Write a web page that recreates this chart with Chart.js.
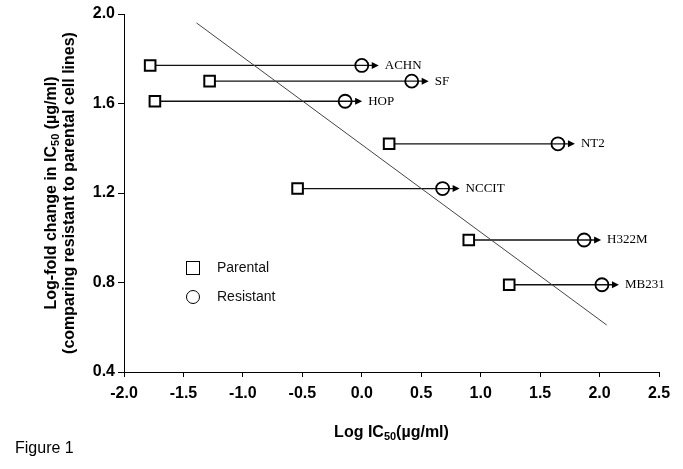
<!DOCTYPE html>
<html>
<head>
<meta charset="utf-8">
<script src="https://cdn.jsdelivr.net/npm/chart.js@4.4.0/dist/chart.umd.min.js"></script>
<style>
  html, body { margin: 0; padding: 0; background: #fff; }
  #wrap { width: 683px; height: 469px; }
</style>
</head>
<body>
<div id="wrap"><canvas id="icChart" width="683" height="469"></canvas></div>
<script>
// Cell lines and their log IC50 values (parental vs resistant)
const cellLines = ['ACHN', 'SF', 'HOP', 'NT2', 'NCCIT', 'H322M', 'MB231'];
const parentalLogIC50 = [-1.78, -1.28, -1.74, 0.23, -0.54, 0.90, 1.24];
const resistantLogIC50 = [0.0, 0.42, -0.14, 1.65, 0.68, 1.87, 2.02];
const logFoldChange = [1.77, 1.70, 1.61, 1.42, 1.22, 0.99, 0.79];

// Fitted trend line end points
const trendX = [-1.39, 2.06];
const trendY = [1.96, 0.61];

// Axis ticks
const xTicks = [-2.0, -1.5, -1.0, -0.5, 0.0, 0.5, 1.0, 1.5, 2.0, 2.5];
const yTicks = [0.4, 0.8, 1.2, 1.6, 2.0];

const sansBold = 'bold 16px "Liberation Sans", Arial, sans-serif';
const sansBoldSub = 'bold 11px "Liberation Sans", Arial, sans-serif';

function richWidth(ctx, parts) {
  let w = 0;
  parts.forEach(p => {
    ctx.font = p.sub ? sansBoldSub : sansBold;
    w += ctx.measureText(p.t).width;
  });
  return w;
}

// draws text pieces (some subscript) centred on cx, cy
function drawRich(ctx, parts, cx, cy) {
  let x = cx - richWidth(ctx, parts) / 2;
  ctx.textAlign = 'left';
  ctx.textBaseline = 'middle';
  parts.forEach(p => {
    ctx.font = p.sub ? sansBoldSub : sansBold;
    ctx.fillText(p.t, x, p.sub ? cy + 4 : cy);
    x += ctx.measureText(p.t).width;
  });
}

// arrows from parental to resistant, plus cell line names
const arrowPlugin = {
  id: 'arrows',
  beforeDatasetsDraw(chart) {
    const ctx = chart.ctx;
    const xs = chart.scales.x, ys = chart.scales.y;
    ctx.save();
    ctx.strokeStyle = '#111';
    ctx.fillStyle = '#000';
    ctx.lineWidth = 1.3;
    cellLines.forEach((name, i) => {
      const x0 = xs.getPixelForValue(parentalLogIC50[i]);
      const x1 = xs.getPixelForValue(resistantLogIC50[i]);
      const y = ys.getPixelForValue(logFoldChange[i]);
      const tip = x1 + 17;
      ctx.beginPath();
      ctx.moveTo(x0, y);
      ctx.lineTo(tip - 5, y);
      ctx.stroke();
      ctx.beginPath();
      ctx.moveTo(tip, y);
      ctx.lineTo(tip - 7, y - 3.5);
      ctx.lineTo(tip - 7, y + 3.5);
      ctx.closePath();
      ctx.fill();
      ctx.font = '13px "Liberation Serif", "Times New Roman", serif';
      ctx.textAlign = 'left';
      ctx.textBaseline = 'middle';
      ctx.fillText(name, tip + 6, y);
    });
    ctx.restore();
  },
  afterDraw(chart) {
    const ctx = chart.ctx;
    const area = chart.chartArea;
    ctx.save();
    ctx.fillStyle = '#000';

    // axis titles
    drawRich(ctx, [{t: 'Log IC'}, {t: '50', sub: true}, {t: '(\u00b5g/ml)'}],
      (area.left + area.right) / 2, 433);
    const midY = (area.top + area.bottom) / 2;
    ctx.translate(52, midY);
    ctx.rotate(-Math.PI / 2);
    drawRich(ctx, [{t: 'Log-fold change in IC'}, {t: '50', sub: true}, {t: ' (\u00b5g/ml)'}], 0, 0);
    drawRich(ctx, [{t: '(comparing resistant to parental cell lines)'}], 0, 18);
    ctx.setTransform(1, 0, 0, 1, 0, 0);

    // legend
    ctx.strokeStyle = '#000';
    ctx.lineWidth = 1;
    ctx.fillStyle = '#fff';
    ctx.fillRect(186.5, 261.5, 13, 13);
    ctx.strokeRect(186.5, 261.5, 13, 13);
    ctx.beginPath();
    ctx.arc(193, 297, 6.5, 0, Math.PI * 2);
    ctx.stroke();
    ctx.fillStyle = '#111';
    ctx.font = '14px "Liberation Sans", Arial, sans-serif';
    ctx.textAlign = 'left';
    ctx.textBaseline = 'middle';
    ctx.fillText('Parental', 217, 268);
    ctx.fillText('Resistant', 217, 297);

    // figure caption
    ctx.font = '16px "Liberation Sans", Arial, sans-serif';
    ctx.fillStyle = '#000';
    ctx.fillText('Figure 1', 15, 449);
    ctx.restore();
  }
};

const ctx = document.getElementById('icChart').getContext('2d');
const icChart = new Chart(ctx, {
  type: 'scatter',
  data: {
    datasets: [
      {
        label: 'Parental',
        data: parentalLogIC50.map((v, i) => ({x: v, y: logFoldChange[i]})),
        pointStyle: 'rect',
        pointRadius: 7.5,
        borderColor: '#000',
        borderWidth: 2,
        backgroundColor: '#fff'
      },
      {
        label: 'Resistant',
        data: resistantLogIC50.map((v, i) => ({x: v, y: logFoldChange[i]})),
        pointStyle: 'circle',
        pointRadius: 6.5,
        borderColor: '#000',
        borderWidth: 1.8,
        backgroundColor: 'rgba(0,0,0,0)'
      },
      {
        label: 'Trend',
        type: 'line',
        data: trendX.map((v, i) => ({x: v, y: trendY[i]})),
        borderColor: '#444',
        borderWidth: 1,
        pointRadius: 0,
        fill: false
      }
    ]
  },
  options: {
    responsive: false,
    animation: false,
    layout: { padding: { left: 0, right: 24, top: 14, bottom: 0 } },
    plugins: {
      legend: { display: false },
      tooltip: { enabled: false }
    },
    scales: {
      x: {
        type: 'linear',
        min: -2.0,
        max: 2.5,
        afterBuildTicks: s => { s.ticks = xTicks.map(v => ({value: v})); },
        afterFit: s => { s.height = 97; },
        grid: { drawOnChartArea: false, tickLength: 5, color: '#000' },
        border: { color: '#000', width: 1 },
        ticks: {
          padding: 7,
          color: '#000',
          font: { family: '"Liberation Sans", Arial, sans-serif', size: 16, weight: 'bold' },
          callback: v => v.toFixed(1)
        }
      },
      y: {
        type: 'linear',
        min: 0.4,
        max: 2.0,
        afterBuildTicks: s => { s.ticks = yTicks.map(v => ({value: v})); },
        afterFit: s => { s.width = 124; },
        grid: { drawOnChartArea: false, tickLength: 6, color: '#000' },
        border: { color: '#000', width: 1 },
        ticks: {
          padding: 3,
          color: '#000',
          font: { family: '"Liberation Sans", Arial, sans-serif', size: 16, weight: 'bold' },
          callback: v => v.toFixed(1)
        }
      }
    }
  },
  plugins: [arrowPlugin]
});
</script>
</body>
</html>
